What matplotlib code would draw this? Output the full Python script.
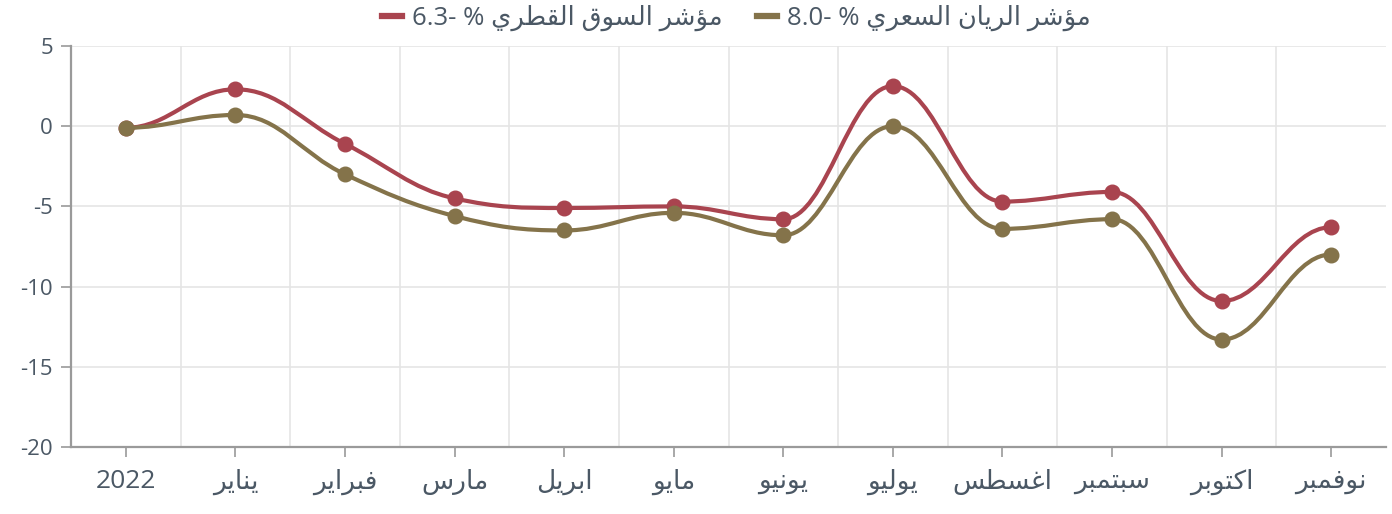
import re
import numpy as np
import matplotlib
matplotlib.use("Agg")
from matplotlib import pyplot as plt
from matplotlib.path import Path
from matplotlib.patches import PathPatch
from matplotlib.lines import Line2D

plt.rcParams['font.family'] = ['Open Sans', 'DejaVu Sans']

# data
months = ["2022", "يناير", "فبراير", "مارس", "ابريل", "مايو", "يونيو",
          "يوليو", "اغسطس", "سبتمبر", "اكتوبر", "نوفمبر"]
qe_index = [-0.1, 2.3, -1.1, -4.5, -5.1, -5.0, -5.8, 2.5, -4.7, -4.1, -10.9, -6.3]
rayan_index = [-0.1, 0.7, -3.0, -5.6, -6.5, -5.4, -6.8, 0.0, -6.4, -5.8, -13.3, -8.0]
series_names = ["مؤشر السوق القطري % -6.3", "مؤشر الريان السعري % -8.0"]
series_colors = ["#a9444f", "#84734a"]
yticks = [5, 0, -5, -10, -15, -20]

TEXT = "#4b5865"

# matplotlib has no arabic shaping, so map letters to presentation forms
# (iso, fin, ini, med = base, base+1, base+2, base+3)
DUAL = {'ب': 0xFE8F, 'ت': 0xFE95, 'س': 0xFEB1, 'ش': 0xFEB5, 'ط': 0xFEC1,
        'ع': 0xFEC9, 'غ': 0xFECD, 'ف': 0xFED1, 'ق': 0xFED5, 'ك': 0xFED9,
        'ل': 0xFEDD, 'م': 0xFEE1, 'ن': 0xFEE5, 'ي': 0xFEF1}
RIGHT = {'ا': 0xFE8D, 'ؤ': 0xFE85, 'ر': 0xFEAD, 'و': 0xFEED}


def shape(s):
    out = []
    for i, c in enumerate(s):
        if c not in DUAL and c not in RIGHT:
            out.append(c)
            continue
        prev_j = i > 0 and s[i - 1] in DUAL
        next_j = c in DUAL and i + 1 < len(s) and (s[i + 1] in DUAL or s[i + 1] in RIGHT)
        base = DUAL.get(c, RIGHT.get(c))
        if prev_j and next_j:
            off = 3
        elif next_j:
            off = 2
        elif prev_j:
            off = 1
        else:
            off = 0
        out.append(chr(base + off))
    # right-to-left: reverse, keep number runs as they are
    toks = re.findall(r'[0-9.]+|.', "".join(out))
    return "".join(toks[::-1])


def spline_path(xs, ys, smoothing=1.5):
    # highcharts style spline, flat tangents at both ends
    n = len(xs)
    d = smoothing + 1
    left = [None] * n
    right = [None] * n
    right[0] = (xs[0] + (xs[1] - xs[0]) / d, ys[0])
    left[-1] = (xs[-1] - (xs[-1] - xs[-2]) / d, ys[-1])
    for i in range(1, n - 1):
        px, py = xs[i], ys[i]
        lx, ly = xs[i - 1], ys[i - 1]
        nx, ny = xs[i + 1], ys[i + 1]
        lcx = (smoothing * px + lx) / d
        lcy = (smoothing * py + ly) / d
        rcx = (smoothing * px + nx) / d
        rcy = (smoothing * py + ny) / d
        if rcx != lcx:
            corr = (rcy - lcy) * (rcx - px) / (rcx - lcx) + py - rcy
            lcy += corr
            rcy += corr
        if lcy > ly and lcy > py:
            lcy = max(ly, py)
            rcy = 2 * py - lcy
        elif lcy < ly and lcy < py:
            lcy = min(ly, py)
            rcy = 2 * py - lcy
        if rcy > ny and rcy > py:
            rcy = max(ny, py)
            lcy = 2 * py - rcy
        elif rcy < ny and rcy < py:
            rcy = min(ny, py)
            lcy = 2 * py - rcy
        left[i] = (lcx, lcy)
        right[i] = (rcx, rcy)
    verts = [(xs[0], ys[0])]
    codes = [Path.MOVETO]
    for i in range(1, n):
        verts += [right[i - 1], left[i], (xs[i], ys[i])]
        codes += [Path.CURVE4] * 3
    return Path(verts, codes)


fig = plt.figure(figsize=(13.92, 5.14), dpi=100)
ax = fig.add_axes([0.051, 0.1304, 0.9447, 0.7801])

x = np.arange(len(months))
handles = []
for k, (vals, col) in enumerate(zip([qe_index, rayan_index], series_colors)):
    z = 3 + k
    ax.add_patch(PathPatch(spline_path(list(x), vals), fill=False,
                           edgecolor=col, lw=3.0, zorder=z, capstyle='round'))
    ax.plot(x, vals, 'o', color=col, ms=10.5, zorder=z)
    handles.append(Line2D([], [], color=col, lw=4.5))

ax.set_xlim(-0.5, len(months) - 0.5)
ax.set_ylim(-20, 5)
ax.set_yticks(yticks)
ax.set_yticklabels([str(v) for v in yticks], fontsize=16, color=TEXT)
ax.set_xticks(x)
ax.set_xticklabels([shape(m) for m in months], fontsize=19, color=TEXT)
ax.set_xticks(x[:-1] + 0.5, minor=True)

ax.grid(axis='y', color='#e5e5e5', lw=1.2)
ax.grid(axis='x', which='minor', color='#e5e5e5', lw=1.2)
ax.set_axisbelow(True)
for s in ['top', 'right']:
    ax.spines[s].set_visible(False)
for s in ['left', 'bottom']:
    ax.spines[s].set_color('#9a9a9a')
    ax.spines[s].set_linewidth(1.6)
ax.tick_params(axis='y', length=7, width=1.2, color='#9a9a9a', pad=6)
ax.tick_params(axis='x', which='major', length=7, width=1.2, color='#9a9a9a', pad=9)
ax.tick_params(axis='x', which='minor', length=0)

fig.legend(handles, [shape(s) for s in series_names], loc='upper center',
           bbox_to_anchor=(0.529, 1.035), ncol=2, frameon=False,
           fontsize=18.5, handlelength=0.8, handletextpad=0.4, columnspacing=1.3,
           labelcolor=TEXT)

fig.savefig("out.png", dpi=100)
